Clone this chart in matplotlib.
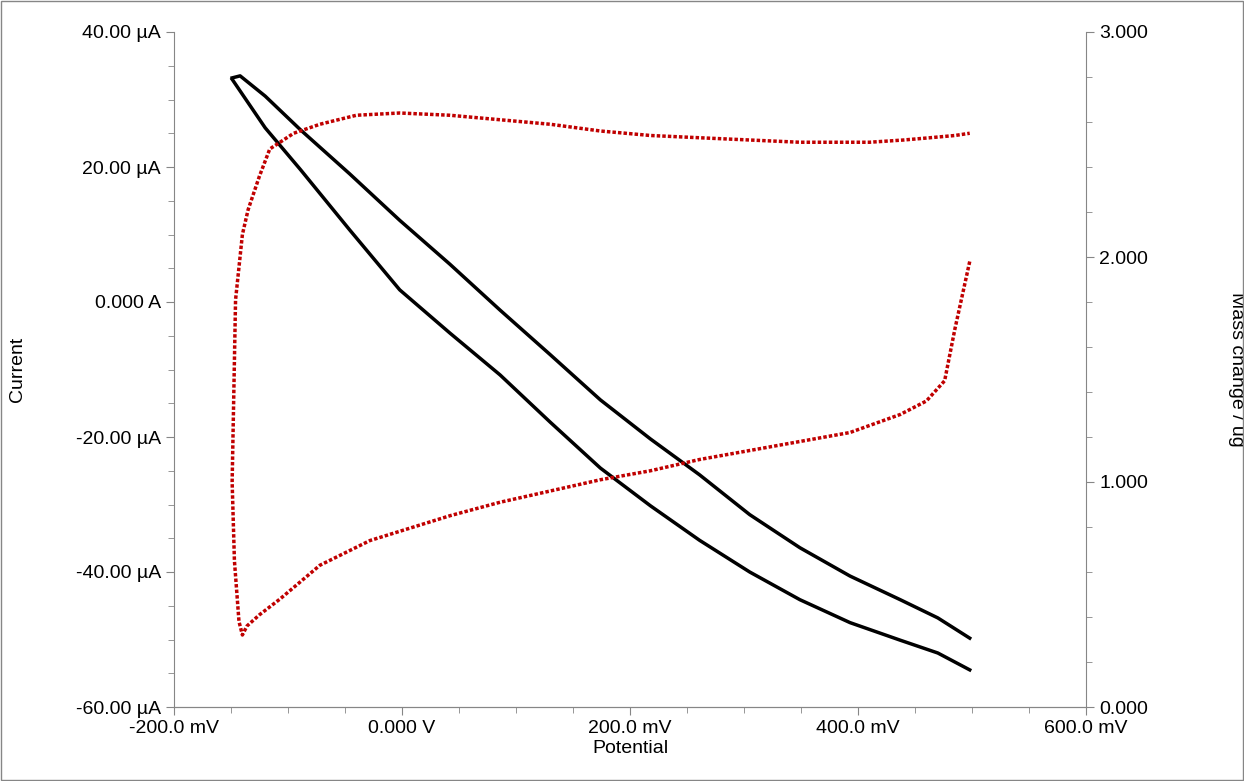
import matplotlib
matplotlib.use("Agg")
import matplotlib.pyplot as plt
from matplotlib.ticker import MultipleLocator, FuncFormatter

plt.rcParams["font.family"] = "Liberation Sans"

# Current (µA) vs potential (mV): forward and reverse sweeps
pot_upper = [-149, -142, -120, -89, -46, -2, 42, 86, 130, 174, 218, 261, 305, 349, 393, 437, 470, 498]
cur_upper = [33.2, 33.5, 30.5, 25.5, 19.0, 12.1, 5.6, -1.2, -7.8, -14.5, -20.3, -25.6, -31.5, -36.4, -40.6, -44.1, -46.8, -49.8]
pot_lower = [-149, -120, -89, -46, -2, 42, 86, 130, 174, 218, 261, 305, 349, 393, 437, 470, 498]
cur_lower = [33.0, 25.8, 19.6, 10.7, 1.8, -4.6, -10.8, -17.8, -24.6, -30.2, -35.3, -40.0, -44.1, -47.5, -50.1, -52.0, -54.5]

# Mass change (µg) vs potential (mV)
pot_mass = [498, 485, 476, 460, 437, 393, 349, 305, 261, 218, 174, 130, 86, 42, -28, -72, -107, -125, -136, -140, -143, -147, -149, -146, -140, -135, -125, -116, -95, -72, -40, -2, 42, 86, 130, 174, 218, 261, 305, 349, 380, 410, 440, 463, 485, 498]
mass = [1.98, 1.68, 1.45, 1.36, 1.30, 1.22, 1.18, 1.14, 1.10, 1.05, 1.01, 0.96, 0.91, 0.85, 0.74, 0.63, 0.48, 0.41, 0.36, 0.32, 0.38, 0.65, 1.00, 1.81, 2.10, 2.21, 2.36, 2.48, 2.55, 2.59, 2.63, 2.64, 2.63, 2.61, 2.59, 2.56, 2.54, 2.53, 2.52, 2.51, 2.51, 2.51, 2.52, 2.53, 2.54, 2.55]

fig = plt.figure(figsize=(12.44, 7.81), dpi=100)
ax = fig.add_axes([174/1244, 1-707/781, (1086-174)/1244, (707-32)/781])
ax2 = ax.twinx()

ax.plot(pot_upper, cur_upper, color="black", lw=2.5)
ax.plot(pot_lower, cur_lower, color="black", lw=2.5)
ax2.plot(pot_mass, mass, color="#C00000", lw=2.5, linestyle=(0, (1, 0.6)))

ax.set_xlim(-200, 600)
ax.set_ylim(-60, 40)
ax2.set_ylim(0, 3)
ax.xaxis.set_major_locator(MultipleLocator(200))
ax.xaxis.set_minor_locator(MultipleLocator(50))
ax.yaxis.set_major_locator(MultipleLocator(20))
ax.yaxis.set_minor_locator(MultipleLocator(5))
ax2.yaxis.set_major_locator(MultipleLocator(1))
ax2.yaxis.set_minor_locator(MultipleLocator(0.2))

def xfmt(v, p):
    return "0.000 V" if abs(v) < 1e-9 else f"{v:.1f} mV"
def yfmt(v, p):
    return "0.000 A" if abs(v) < 1e-9 else f"{v:.2f} µA"
ax.xaxis.set_major_formatter(FuncFormatter(xfmt))
ax.yaxis.set_major_formatter(FuncFormatter(yfmt))
ax2.yaxis.set_major_formatter(FuncFormatter(lambda v, p: f"{v:.3f}"))

for a in (ax, ax2):
    a.spines["top"].set_visible(False)
    for s in a.spines.values():
        s.set_color("#868686")
    a.tick_params(which="both", direction="out", color="#868686", labelsize=14)
    a.tick_params(which="major", length=6)
    a.tick_params(which="minor", length=4)
ax.spines["right"].set_visible(False)
ax2.spines["left"].set_visible(False)

ax.set_xlabel("Potential", fontsize=14, labelpad=2)
ax.set_ylabel("Current", fontsize=14, labelpad=36)
ax2.set_ylabel("Mass change / ug", fontsize=14, rotation=270, labelpad=70)

fig.patches.append(plt.Rectangle((0.001, 0.001), 0.998, 0.998, transform=fig.transFigure,
                                 fill=False, edgecolor="#868686", lw=1))
fig.savefig("out.png", dpi=100)
